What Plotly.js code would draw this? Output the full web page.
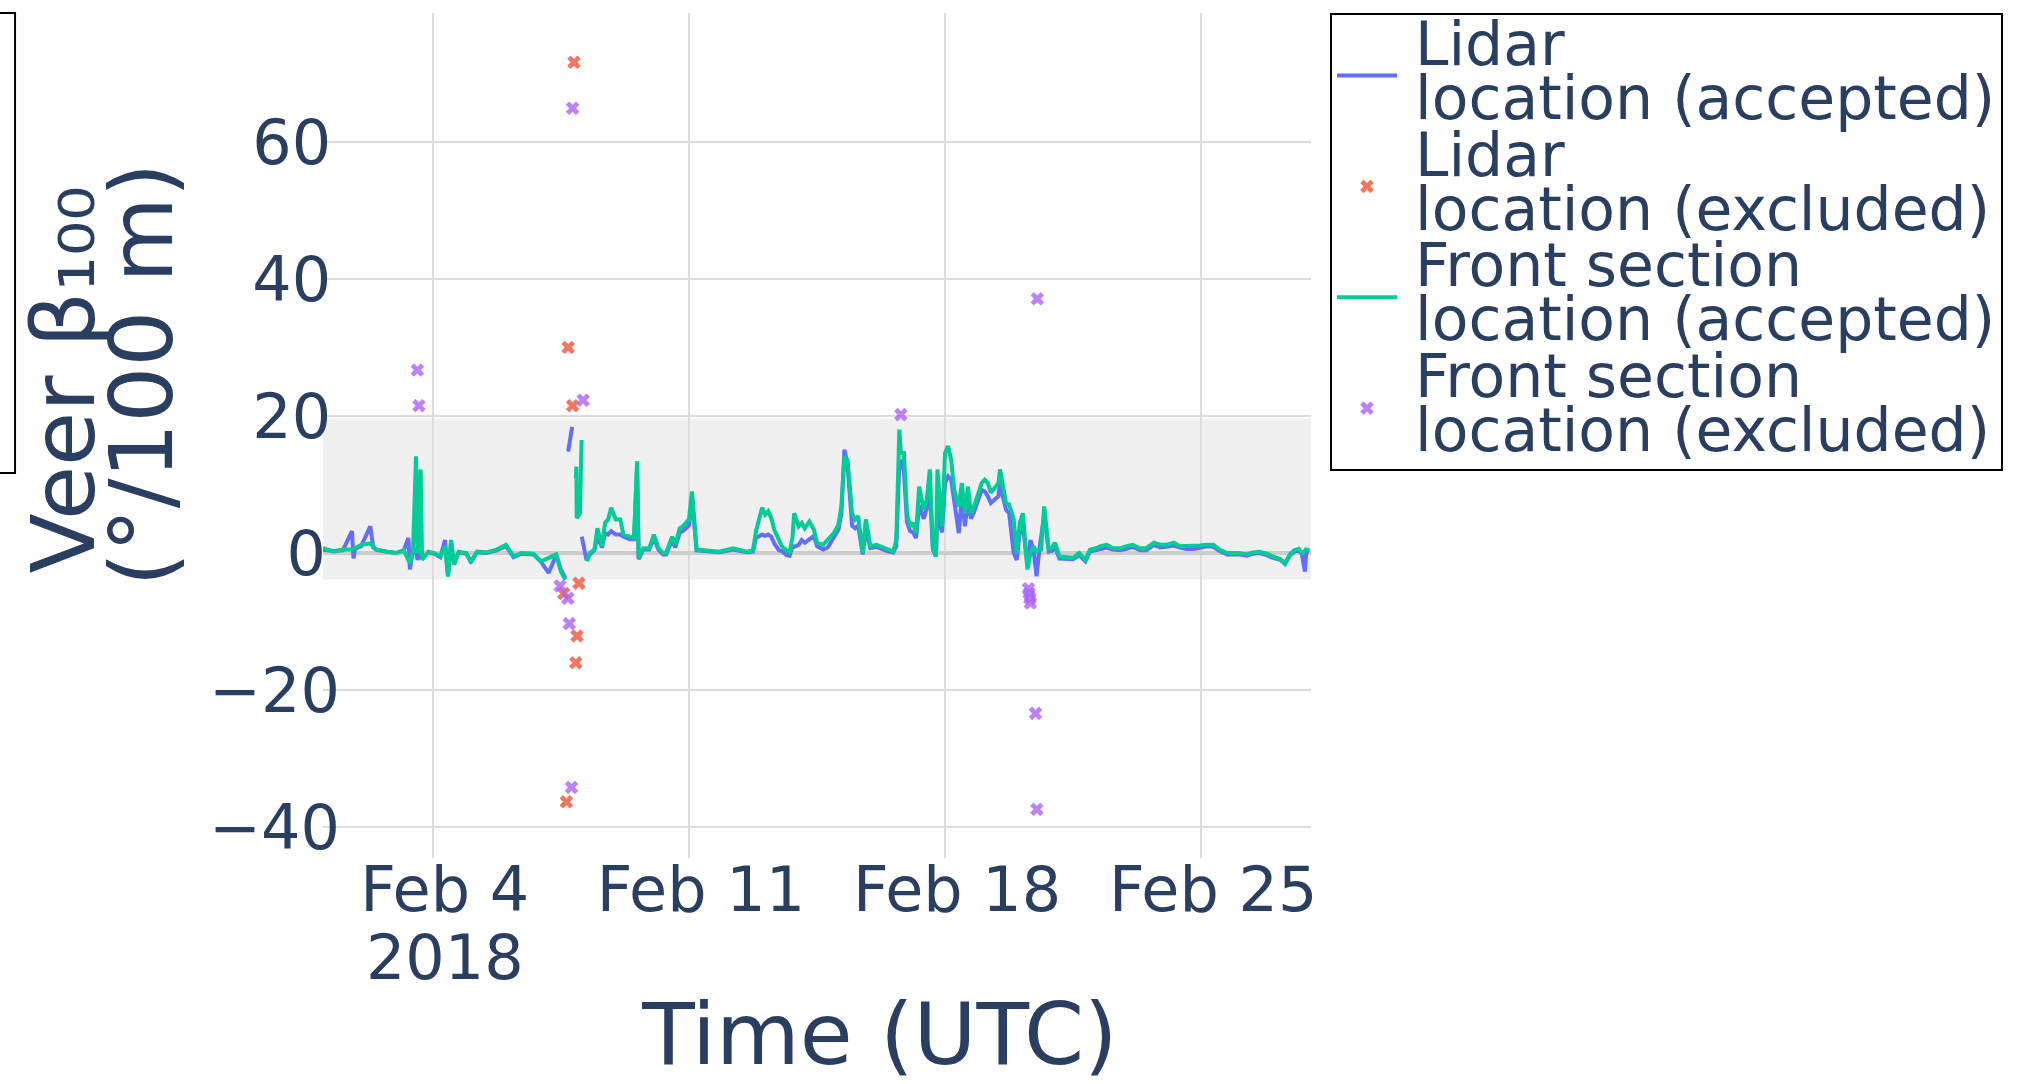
<!DOCTYPE html>
<html>
<head>
<meta charset="utf-8">
<script src="https://cdn.plot.ly/plotly-3.0.1.min.js"></script>
<style>html,body{margin:0;padding:0;background:#fff;}</style>
</head>
<body>
<div id="chart" style="width:2018px;height:1084px;"></div>
<script>
// ---- data (hours since 2018-02-01 00:00 UTC, veer in deg/100 m) ----
const lidarHours = [0,7,13,19,20,21,25,31,33,35,42,48,53,56,57,59,61,62,64,65,69,73,77,80,82,84,86,89,94,97,101,107,114,120,125,130,138,143,148,153,156,159,160,160.8,163.4,165,169.7,172.8,175,178,180,183,185,187,189,192,195,197,201,204,206,207,210,214,217,220,223,225,229,231,234,236,240,242,245,252,260,269,278,282,284,288,290,292,294,296,299,301,304,306,308,309,312,314,316,319,322,324,328,331,335,338,340,342,344,347,349,351,354,356,359,363,370,374,376,378,379,381,383,385,387,389,391,394,396,398,400,402,403,406,408,410,412,414,417,419,421,423,425,427,430,432,434,436,438,441,443,444,446,448,450,453,455,457,459,462,464,466,468,470,473,476,478,480,483,488,492,496,500,503,507,510,514,518,523,527,531,536,540,545,549,553,558,562,566,571,575,580,584,588,593,597,601,606,610,614,619,623,628,631,634,637,640,642,644,645,647];
const lidarVeer = [0.5,0.3,0.4,3.2,-0.8,0.6,1.0,3.9,0.8,0.5,0.2,0,0.4,2.2,-2.4,0.3,0.5,-1.0,0.3,-0.8,0.1,-0.1,-0.6,1.9,-3.4,1.5,-1.5,0.1,-0.1,-1.2,0.1,0,0.4,1.0,-0.6,-0.1,-0.2,-1.3,-2.9,-0.3,-2.4,-3.6,null,14.8,18.4,null,2.4,-1.0,-0.2,0.4,2.4,0.8,2.9,2.7,3.2,2.7,2.7,2.4,2.0,2.0,12.5,-0.9,0.5,0.5,2.2,0.5,-0.2,-0.2,1.9,0.8,3.0,3.2,4.0,8.0,0.4,0.3,0.1,0.5,0.1,0.2,2.2,2.7,2.5,2.7,2.4,1.4,0.4,0.3,-0.3,-0.4,1.0,0.9,1.2,1.9,1.5,2.0,2.5,1.0,0.5,0.8,2.2,3.4,5.8,15.1,13.0,4.0,3.6,4.0,-0.2,3.4,0.7,0.9,0.3,0.1,1.0,13.0,13.6,12.0,4.5,3.2,3.0,2.2,7.0,5.0,6.5,9.0,0.5,-0.5,6.0,3.0,10.2,11.2,10.7,7.3,2.9,8.3,3.9,7.8,5.0,6.0,7.8,9.2,9.0,8.3,7.3,8.0,8.3,10.0,8.0,6.3,5.8,0,-1.0,3.0,4.0,-1.7,1.9,0.5,-3.4,0.8,5.5,0.2,0.3,0.9,-0.8,-0.9,-0.9,-0.3,-1.2,0.2,0.4,0.6,0.8,0.5,0.4,0.6,0.9,0.4,0.4,1.2,0.8,0.9,1.1,0.8,0.6,0.6,0.8,1.0,0.9,0.3,-0.2,-0.2,-0.2,-0.4,-0.1,0,-0.3,-0.7,-1.0,-1.6,-0.4,0.2,0.4,-0.2,-2.7,0.4,0.2];

const frontHours = [0,7,13,19,21,25,31,35,42,48,53,57,59,61,62,64,65,69,73,77,80,82,84,86,89,94,97,101,107,114,120,125,130,138,143,148,153,156,159,161,165.8,166.2,166.4,168.5,169.6,171,173,175,178,180,183,185,187,189,192,195,197,201,204,206,207,210,214,217,220,223,225,229,231,234,236,240,242,245,252,260,269,278,282,284,288,290,292,294,296,299,301,304,306,308,309,312,314,316,319,322,324,328,331,335,338,340,342,344,347,349,351,354,356,359,363,370,374,376,378,379,381,383,385,387,389,391,394,396,398,400,402,403,406,408,410,412,414,417,419,421,423,425,427,430,432,434,436,438,441,443,444,446,448,450,453,455,457,459,462,464,466,468,471,473,476,478,480,483,488,492,496,500,503,507,510,514,518,523,527,531,536,540,545,549,553,558,562,566,571,575,580,584,588,593,597,601,606,610,614,619,623,628,631,634,637,640,642,645,647];
const frontVeer = [0.7,0.2,0.5,0.5,0.7,1.2,1.4,0.5,0.2,0,0.4,-1.5,0.2,14.1,0,12.2,-1.0,0.2,0,-0.5,1.0,-3.4,1.9,-1.7,0.2,0,-1.4,0.2,0.1,0.5,1.2,-0.5,0,-0.1,-1.2,-0.7,-0.2,-2.7,-3.9,null,10.9,12.6,5.1,5.8,16.5,null,-1.2,0,0.5,3.6,1.0,4.4,4.9,6.6,4.9,4.9,2.7,2.4,2.2,13.4,-0.7,0.7,0.7,2.7,0.7,0,0,2.4,1.2,3.6,3.9,4.9,9.0,0.5,0.4,0.2,0.7,0.2,0.4,3.2,6.6,5.6,6.1,5.1,3.4,1.9,1.0,0.4,-0.1,2.4,5.8,3.9,4.4,3.6,4.6,3.4,1.5,1.2,1.9,2.9,4.1,6.8,14.1,13.6,5.8,4.9,5.4,0,4.9,1.0,1.2,0.5,0.2,1.9,18.0,14.6,14.6,5.8,3.9,4.4,2.9,9.7,6.3,7.8,12.2,1.0,-0.5,12.2,3.9,14.6,15.6,13.6,9.2,6.8,10.2,5.8,9.7,5.8,6.8,8.8,10.2,10.7,10.2,8.8,9.7,10.2,12.2,9.7,7.3,7.1,4.9,0,4.4,5.8,-2.4,0,1.0,0.2,0.5,6.8,0.5,0.7,1.5,-0.5,-0.6,-0.7,0,-1.0,0.5,0.7,1.0,1.2,0.7,0.7,1.0,1.2,0.7,0.7,1.5,1.2,1.2,1.5,1.0,1.0,1.0,1.1,1.2,1.2,0.5,0,0,0,-0.2,0.1,0.2,-0.1,-0.5,-0.9,-1.5,-0.2,0.4,0.6,0,0.5,0.4];

const lidarExHours = [157.9,159.6,160.8,163.7,164.6,165.8,166.6,167.8];
const lidarExVeer  = [-5.9,-36.3,30.0,21.5,71.6,-16.0,-12.1,-4.4];

const frontExHours = [61.9,62.9,155.5,160.6,161.5,163.0,163.7,170.6,379,462.7,463.2,463.6,464.0,467.3,468.2,468.5];
const frontExVeer  = [26.7,21.5,-4.8,-6.6,-10.3,-34.2,64.9,22.3,20.2,-5.2,-5.9,-6.6,-7.3,-23.4,-37.4,37.1];

const seriesNames = [
  ['Lidar', 'location (accepted)'],
  ['Lidar', 'location (excluded)'],
  ['Front section', 'location (accepted)'],
  ['Front section', 'location (excluded)']
];
const xTickDates  = ['2018-02-04', '2018-02-11', '2018-02-18', '2018-02-25'];
const xTickLabels = [['Feb 4', '2018'], ['Feb 11'], ['Feb 18'], ['Feb 25']];
const yTickValues = [-40, -20, 0, 20, 40, 60];
const yTickLabels = ['\u221240', '\u221220', '0', '20', '40', '60'];
const acceptedBand = [-3.85, 19.6];

// ---- helpers ----
const T0 = Date.UTC(2018, 1, 1);
function toDate(h) {
  return new Date(T0 + h * 3600000).toISOString().slice(0, 19).replace('T', ' ');
}
const NB = '\u00a0';
function sp(px, s) { return '<span style="font-size:' + px + 'px">' + s + '</span>'; }
function big(lines, px, lead) {
  return lines.map(s => (lead ? sp(lead, NB) : '') + sp(px, s)).join('<br>');
}
// trailing pad so that right edges follow the reference's label placement
function yLabel(s) {
  if (s.length === 3) return s;
  if (s.length === 1) return s + sp(44, NB);
  return s + sp(28, NB);
}

const traces = [
  {
    type: 'scatter', mode: 'lines', name: big(seriesNames[0], 60, 41),
    x: lidarHours.map(toDate), y: lidarVeer,
    line: {color: '#636efa', width: 4}
  },
  {
    type: 'scatter', mode: 'markers', name: big(seriesNames[1], 60, 41),
    x: lidarExHours.map(toDate), y: lidarExVeer,
    marker: {symbol: 'x', size: 12, color: '#EF553B', opacity: 0.8}
  },
  {
    type: 'scatter', mode: 'lines', name: big(seriesNames[2], 60, 41),
    x: frontHours.map(toDate), y: frontVeer,
    line: {color: '#00cc96', width: 4}
  },
  {
    type: 'scatter', mode: 'markers', name: big(seriesNames[3], 60, 41),
    x: frontExHours.map(toDate), y: frontExVeer,
    marker: {symbol: 'x', size: 12, color: '#AB63FA', opacity: 0.8}
  }
];

const layout = {
  width: 2018, height: 1084,
  margin: {l: 323, r: 707, t: 13, b: 226, pad: 0},
  paper_bgcolor: '#ffffff', plot_bgcolor: '#ffffff',
  font: {family: 'DejaVu Sans', color: '#2a3f5f'},
  showlegend: true,
  legend: {
    x: 1.0192, xanchor: 'left', y: 1, yanchor: 'top',
    bgcolor: '#ffffff', bordercolor: '#000000', borderwidth: 2,
    font: {size: 41.5, color: '#2a3f5f'}, itemwidth: 60, tracegroupgap: 0
  },
  xaxis: {
    type: 'date',
    range: ['2018-02-01 00:00', '2018-02-28 00:00'],
    tickmode: 'array', tickvals: xTickDates,
    ticktext: xTickLabels.map(l => big(l, 62)),
    tickfont: {size: 52, color: '#2a3f5f'},
    ticklabelshift: 12,
    showgrid: true, gridcolor: '#dcdcdc', gridwidth: 2,
    zeroline: false, showline: false, ticks: '',
    title: {
      text: sp(86, NB + NB + NB + NB) + sp(52, NB) + 'Time (UTC)',
      font: {size: 86, color: '#2a3f5f'}, standoff: 23
    }
  },
  yaxis: {
    range: [-44.5, 78.8],
    tickmode: 'array', tickvals: yTickValues,
    ticktext: yTickLabels.map(yLabel),
    tickfont: {size: 62, color: '#2a3f5f'},
    ticklabelstandoff: -18,
    showgrid: true, gridcolor: '#dcdcdc', gridwidth: 2,
    zeroline: true, zerolinecolor: '#cdcdcd', zerolinewidth: 4,
    showline: false, ticks: '',
    title: {
      text: sp(88, NB + NB + NB + NB + 'Veer β₁₀₀') + '<br>' + sp(88, NB + NB + NB + NB) + sp(31, NB) + sp(88, '(°/100 m)'),
      font: {size: 60, color: '#2a3f5f'}, standoff: 17
    }
  },
  shapes: [
    {type: 'rect', xref: 'paper', yref: 'y', x0: 0, x1: 1, y0: acceptedBand[0], y1: acceptedBand[1],
     fillcolor: '#f0f0f0', line: {width: 0}, layer: 'below'},
    {type: 'rect', xref: 'paper', yref: 'paper', x0: -0.36, x1: -0.3117, y0: 0.4556, y1: 1.0,
     fillcolor: 'rgba(0,0,0,0)', line: {color: '#000000', width: 2}}
  ]
};

Plotly.newPlot('chart', traces, layout, {displayModeBar: false, staticPlot: true});
</script>
</body>
</html>
